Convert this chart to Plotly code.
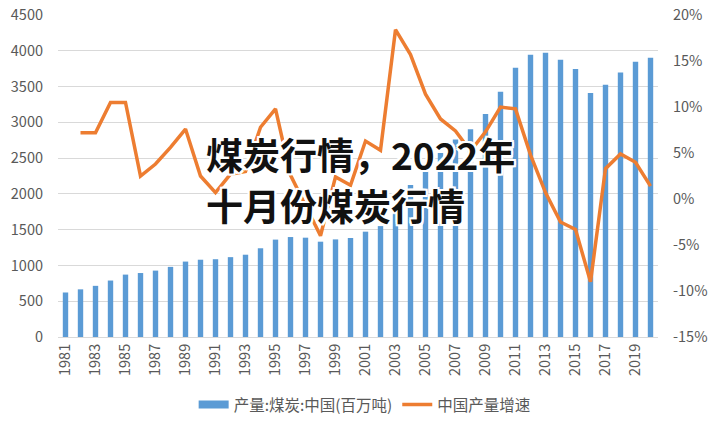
import plotly.graph_objects as go

years = [str(y) for y in range(1981, 2021)]
production = [622, 666, 715, 789, 872, 894, 928, 980, 1054, 1080,
              1087, 1116, 1150, 1240, 1361, 1397, 1388, 1332, 1364, 1384,
              1472, 1550, 1835, 2123, 2365, 2570, 2760, 2903, 3115, 3428,
              3764, 3945, 3974, 3874, 3747, 3411, 3524, 3698, 3846, 3902]
growth_years = years[1:]
growth = [7.2, 7.2, 10.5, 10.5, 2.5, 3.8, 5.6, 7.6, 2.5,
          0.7, 2.7, 3.0, 7.8, 9.8, 2.6, -0.6, -4.0, 2.4, 1.5,
          6.3, 5.3, 18.4, 15.7, 11.4, 8.7, 7.4, 5.2, 7.3, 10.0,
          9.8, 4.8, 0.7, -2.5, -3.3, -9.0, 3.3, 4.9, 4.0, 1.4]
growth_frac = [g / 100 for g in growth]
tick_years = years[::2]
left_ticks = [0, 500, 1000, 1500, 2000, 2500, 3000, 3500, 4000, 4500]
right_ticks = [-0.15, -0.10, -0.05, 0, 0.05, 0.10, 0.15, 0.20]
right_ticktext = ["-15%", "-10%", "-5%", "0%", "5%", "10%", "15%", "20%"]

title_line1 = "煤炭行情，2022年"
title_line2 = "十月份煤炭行情"

FONT = "Noto Sans CJK SC"
GRAY = "#595959"
BLUE = "#5b9bd5"
ORANGE = "#ed7d31"

fig = go.Figure()
fig.add_trace(go.Bar(
    x=years, y=production, name="产量:煤炭:中国(百万吨)",
    marker=dict(color=BLUE, line=dict(width=0)), showlegend=False,
))
# legend entry mimicking a wide rectangle swatch
fig.add_trace(go.Scatter(
    x=[None], y=[None], name="产量:煤炭:中国(百万吨)", mode="lines",
    line=dict(color=BLUE, width=8),
))
fig.add_trace(go.Scatter(
    x=growth_years, y=growth_frac, name="中国产量增速", yaxis="y2",
    mode="lines", line=dict(color=ORANGE, width=3.5),
))

halo = ", ".join(f"{dx}px {dy}px 0 white" for dx in (-2, 0, 2) for dy in (-2, 0, 2) if dx or dy)
for txt, yy in ((title_line1, 0.568), (title_line2, 0.41)):
    fig.add_annotation(
        text=f"<b>{txt}</b>", xref="paper", yref="paper",
        x=0.243, y=yy, xanchor="left", yanchor="middle", showarrow=False,
        font=dict(family=FONT, size=37, color="#111111", shadow=halo),
    )

fig.update_layout(
    width=715, height=427,
    margin=dict(l=58, r=57, t=15, b=90),
    paper_bgcolor="white", plot_bgcolor="white",
    bargap=0.64,
    font=dict(family=FONT, color=GRAY, size=14),
    showlegend=True,
    legend=dict(orientation="h", x=0.51, xanchor="center", xref="container",
                y=(427 - 405) / 427, yanchor="middle", yref="container",
                font=dict(size=15.5, color=GRAY), itemwidth=30, tracegroupgap=0),
    xaxis=dict(
        type="category", tickmode="array", tickvals=tick_years, ticktext=tick_years,
        tickangle=-90, showgrid=False, showline=True, linecolor="#d9d9d9",
        tickfont=dict(size=14.5, color=GRAY), ticks="", automargin=False,
    ),
    yaxis=dict(
        range=[0, 4500], tickvals=left_ticks, showgrid=True, gridcolor="#d9d9d9",
        zeroline=False, ticks="", ticklabelstandoff=14, automargin=False,
        tickfont=dict(size=14.5, color=GRAY),
    ),
    yaxis2=dict(
        range=[-0.15, 0.20], tickvals=right_ticks, ticktext=right_ticktext,
        overlaying="y", side="right", showgrid=False, zeroline=False, automargin=False,
        ticks="", ticklabelstandoff=14, tickfont=dict(size=14.5, color=GRAY),
    ),
)

fig.write_html("out.html", config={"displayModeBar": False},
               post_script="document.body.style.margin='0';")
